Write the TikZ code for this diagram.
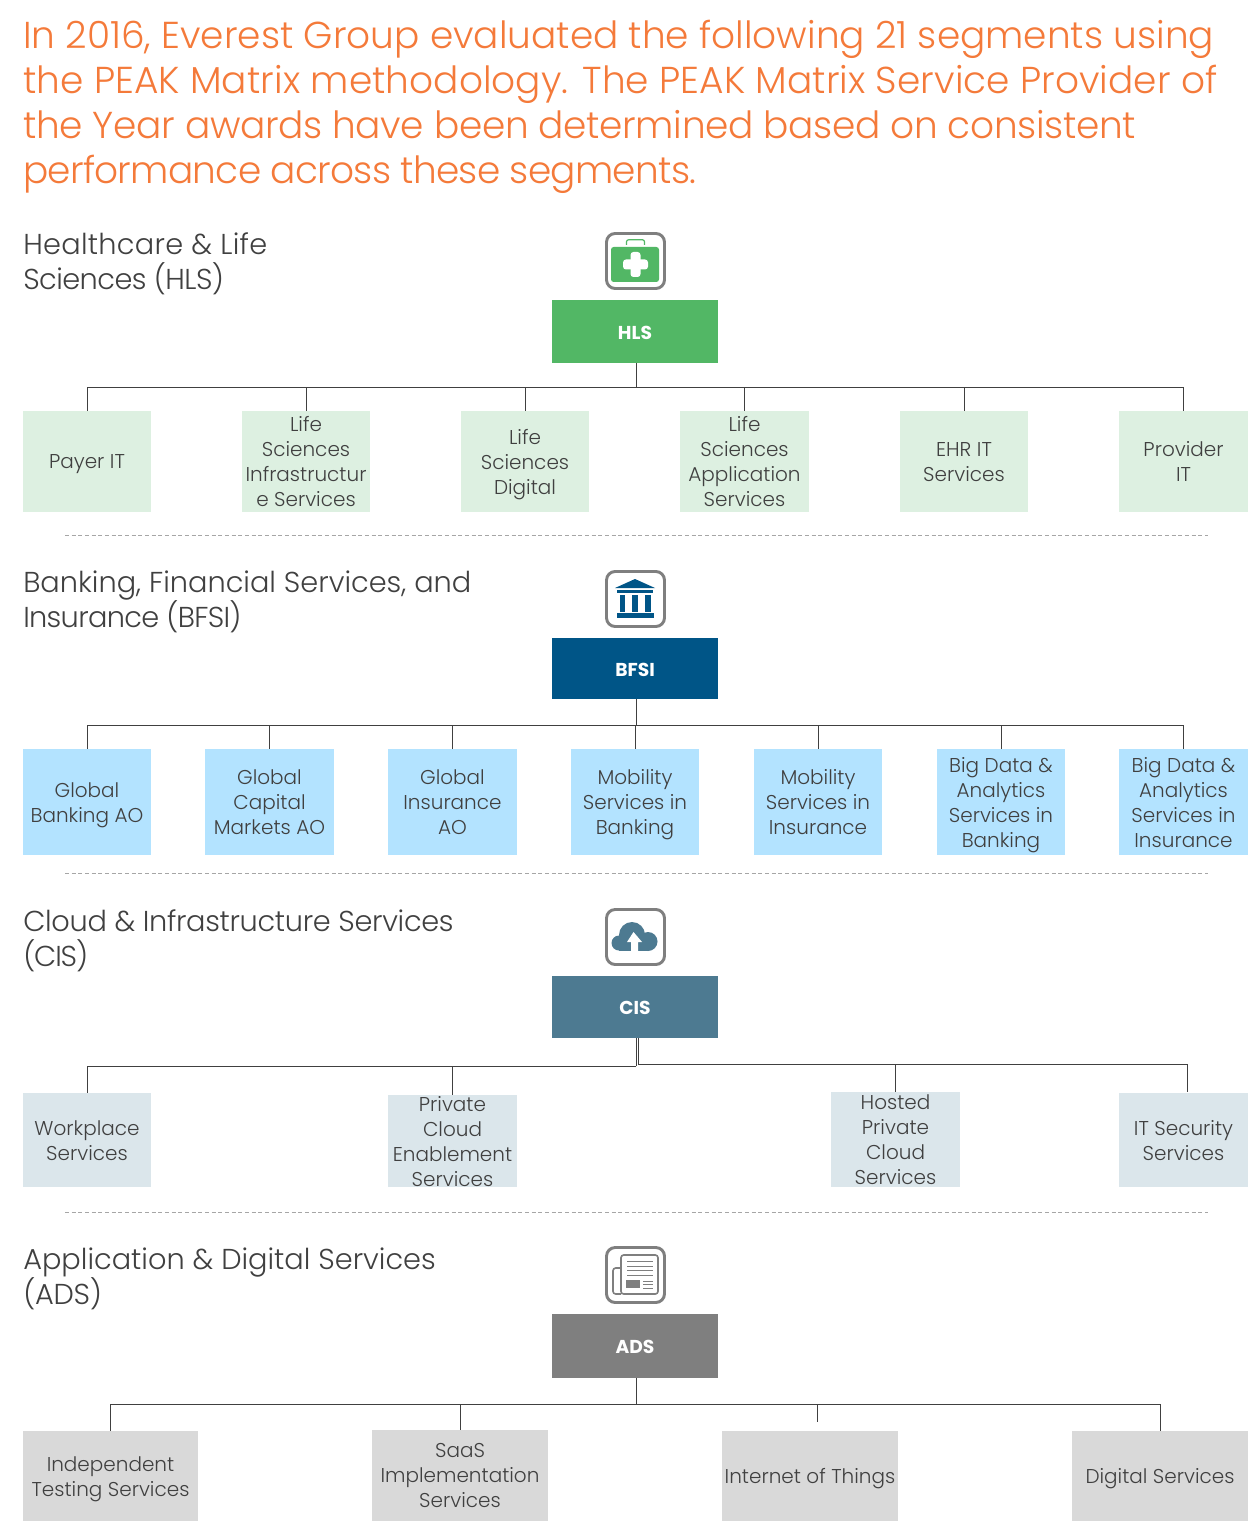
\documentclass[tikz,border=0pt]{standalone}
\usepackage{fontspec}
\setmainfont{Poppins}[UprightFont=* Light,BoldFont=* Bold]
\newcommand\lsp[1]{\addfontfeature{LetterSpace=#1}}
\definecolor{orangeT}{HTML}{F47A3A}
\definecolor{txt}{HTML}{404040}
\definecolor{cH}{HTML}{52B765}\definecolor{lH}{HTML}{DDF0E1}
\definecolor{cB}{HTML}{005587}\definecolor{lB}{HTML}{B3E3FF}
\definecolor{cC}{HTML}{4D7A91}\definecolor{lC}{HTML}{DBE6EB}
\definecolor{cA}{HTML}{7F7F7F}\definecolor{lA}{HTML}{D9D9D9}
\tikzset{
 x=0.75pt,y=-0.75pt,
 kidfill/.style={inner sep=0pt,outer sep=0pt},
 kidbox/.style={inner sep=0pt,outer sep=0pt,align=center,text=txt,font=\fontsize{15pt}{18.75pt}\selectfont,execute at begin node=\strut,execute at end node=\strut},
 headbox/.style={inner sep=0pt,outer sep=0pt,text=white,font=\fontsize{14pt}{17pt}\selectfont\bfseries},
 headtext/.style={inner sep=0pt,outer sep=0pt,text=white,font=\fontsize{14pt}{17pt}\selectfont\bfseries},
 titletext/.style={anchor=north west,inner sep=0pt,align=left,text=orangeT,font=\fontsize{28.1pt}{33.75pt}\selectfont},
 secttext/.style={anchor=north west,inner sep=0pt,align=left,text=txt,font=\fontsize{21.6pt}{26.25pt}\selectfont},
 conn/.style={draw=black!75,line width=0.75pt},
 sep/.style={draw=black!35,line width=0.5pt,densely dashed},
 frameicon/.style={draw=cA,line width=2.2pt,rounded corners=6.5pt,fill=white},
}
\newcommand\kshift{-3pt}
\newcommand\kid[7]{\node[kidfill,fill=#6,minimum width={(#4-#2)*0.75pt},minimum height={(#5-#3)*0.75pt}] (#1) at ({(#2+#4)/2},{(#3+#5)/2}) {};
\node[kidbox] (#1t) at ([yshift=\kshift]#1.center) {#7};}
\newcommand\head[6]{\node[headbox,fill=#6,minimum width={(718-552)*0.75pt},minimum height={(#3-#2)*0.75pt}] (#1) at (635,{(#2+#3)/2}) {};
\node[headtext] (#1t) at ([yshift=-1pt]#1.center) {#4};\coordinate (#1bus) at (636,#5);}
\begin{document}
\begin{tikzpicture}
\useasboundingbox (0,0) rectangle (1257,1526);
\node[titletext] (title) at (23,20) {In 2016, Everest Group evaluated the following 21 segments using\\{\lsp{0.2}the PEAK Matrix methodology. The PEAK Matrix Service Provider of}\\{\lsp{-0.9}the Year awards have been determined based on consistent}\\{\lsp{-2}performance across these segments.}};
% section headings
\node[secttext] (s1) at (23,232) {{\lsp{1}Healthcare \& Life}\\{\lsp{-1.9}Sciences (HLS)}};
\node[secttext] (s2) at (23,571) {Banking, Financial Services, and\\{\lsp{-2.4}Insurance (BFSI)}};
\node[secttext] (s3) at (23,909) {{\lsp{-1.1}Cloud \& Infrastructure Services}\\{\lsp{-4}(CIS)}};
\node[secttext] (s4) at (23,1248) {Application \& Digital Services\\{\lsp{-1}(ADS)}};
% separators
\coordinate (d1a) at (65,535);\coordinate (d1b) at (1208,535);
\coordinate (d2a) at (65,873);\coordinate (d2b) at (1208,873);
\coordinate (d3a) at (65,1212);\coordinate (d3b) at (1208,1212);
\draw[sep] (d1a)--(d1b);\draw[sep] (d2a)--(d2b);\draw[sep] (d3a)--(d3b);
% HLS
\head{hls}{300}{363}{HLS}{387}{cH}
\renewcommand\kshift{-1.5pt}
\kid{h1}{23}{411}{151}{512}{lH}{Payer IT}
\renewcommand\kshift{-3pt}
\kid{h2}{242}{411}{370}{512}{lH}{Life\\Sciences\\Infrastructur\\e Services}
\kid{h3}{461}{411}{589}{512}{lH}{Life\\Sciences\\Digital}
\kid{h4}{680}{411}{809}{512}{lH}{Life\\Sciences\\Application\\Services}
\kid{h5}{900}{411}{1028}{512}{lH}{EHR IT\\Services}
\kid{h6}{1119}{411}{1248}{512}{lH}{Provider\\IT}
\draw[conn] (hls.south -| hlsbus) -- (hlsbus);
\foreach \k in {h1,h2,h3,h4,h5,h6}{\draw[conn] (hlsbus) -| (\k.north);}
% BFSI
\head{bfsi}{638}{699}{BFSI}{725}{cB}
\kid{b1}{23}{749}{151}{855}{lB}{Global\\Banking AO}
\kid{b2}{205}{749}{334}{855}{lB}{Global\\Capital\\Markets AO}
\kid{b3}{388}{749}{517}{855}{lB}{Global\\Insurance\\AO}
\kid{b4}{571}{749}{699}{855}{lB}{Mobility\\Services in\\Banking}
\kid{b5}{754}{749}{882}{855}{lB}{Mobility\\Services in\\Insurance}
\kid{b6}{937}{749}{1065}{855}{lB}{Big Data \&\\Analytics\\Services in\\Banking}
\kid{b7}{1119}{749}{1248}{855}{lB}{Big Data \&\\Analytics\\Services in\\Insurance}
\draw[conn] (bfsi.south -| bfsibus) -- (bfsibus);
\foreach \k in {b1,b2,b3,b4,b5,b6,b7}{\draw[conn] (bfsibus) -| (\k.north);}
% CIS
\head{cis}{976}{1038}{CIS}{1066}{cC}
\kid{c1}{23}{1093}{151}{1187}{lC}{Workplace\\Services}
\kid{c2}{388}{1095}{517}{1187}{lC}{Private\\Cloud\\Enablement\\Services}
\kid{c3}{831}{1092}{960}{1187}{lC}{Hosted\\Private\\Cloud\\Services}
\kid{c4}{1119}{1093}{1248}{1187}{lC}{IT Security\\Services}
\coordinate (cisR) at (638,1064);
\coordinate (c4top) at (1187,1092);
\draw[conn] (cis.south -| cisbus) -- (cisbus);
\draw[conn] (cisbus) -| (c1.north);
\draw[conn] (cisbus) -| (c2.north);
\draw[conn] (cis.south -| cisR) -- (cisR);
\draw[conn] (cisR) -| (c3.north);
\draw[conn] (cisR) -| (c4top);
% ADS
\head{ads}{1314}{1378}{ADS}{1404}{cA}
\kid{a1}{23}{1431}{198}{1521}{lA}{Independent\\Testing Services}
\kid{a2}{372}{1430}{548}{1521}{lA}{SaaS\\Implementation\\Services}
\renewcommand\kshift{-1.5pt}
\kid{a3}{722}{1431}{898}{1521}{lA}{Internet of Things}
\kid{a4}{1072}{1431}{1248}{1521}{lA}{Digital Services}
\coordinate (a3top) at (817,1422);
\draw[conn] (ads.south -| adsbus) -- (adsbus);
\draw[conn] (adsbus) -| (a1.north);
\draw[conn] (adsbus) -| (a2.north);
\draw[conn] (adsbus) -| (a3top);
\draw[conn] (adsbus) -| (a4.north);
% icon frames
\draw[frameicon] (606.5,233.5) rectangle (664.5,288.5);
\draw[frameicon] (606.5,571.5) rectangle (664.5,626.5);
\draw[frameicon] (606.5,909.5) rectangle (664.5,964.5);
\draw[frameicon] (606.5,1247.5) rectangle (664.5,1302.5);
% medical case
\fill[cH,rounded corners=2pt] (611,247) rectangle (659,282);
\draw[cH,line width=0.9pt,rounded corners=1.5pt] (626.5,245) -- (626.5,239.8) -- (644.5,239.8) -- (644.5,245);
\fill[white,rounded corners=2.2pt] (623,259.5) rectangle (648,269.5);
\fill[white,rounded corners=2.2pt] (630.5,252) rectangle (640.5,277);
% bank
\fill[cB] (635,579) -- (655,588) -- (615,588) -- cycle;
\fill[cB] (617,590) rectangle (653,593);
\fill[cB] (620,595) rectangle (625,612);
\fill[cB] (632,595) rectangle (638,612);
\fill[cB] (645,595) rectangle (651,612);
\fill[cB] (617,613) rectangle (654,618);
% cloud
\fill[cC] (632,935) circle[radius=13];
\fill[cC] (619,943) circle[radius=7.5];
\fill[cC] (648,941.5) circle[radius=9.5];
\fill[cC] (619,937) rectangle (648,951);
\fill[white] (633.5,932) -- (642,942) -- (638,942) -- (638,951) -- (631,951) -- (631,942) -- (627,942) -- cycle;
% newspaper
\draw[cA,line width=1.2pt,rounded corners=2pt] (621,1255) rectangle (658,1294);
\draw[cA,line width=1.2pt,rounded corners=2pt] (621,1268) -- (613,1268) -- (613,1294) -- (621,1294);
\foreach \yy in {1261,1266,1270,1275}{\draw[cA,line width=0.6pt] (627,\yy) -- (653,\yy);}
\fill[cA] (626,1280) rectangle (640,1288);
\foreach \yy in {1281,1284,1288}{\draw[cA,line width=0.6pt] (643,\yy) -- (653,\yy);}
\end{tikzpicture}
\end{document}
